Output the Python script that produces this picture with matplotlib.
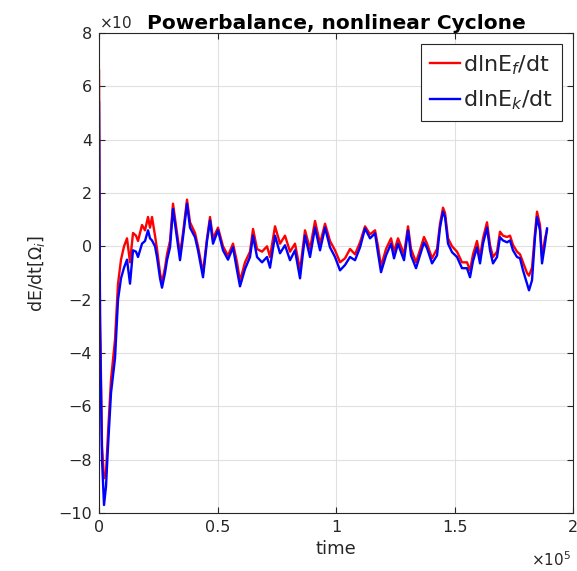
import numpy as np
import matplotlib.pyplot as plt
from matplotlib.ticker import FuncFormatter

# time axis (raw units) and growth rates (shown in units of 10^-3)
time = [0, 420, 1270, 2110, 2950, 3800, 5060, 6750, 8020, 9280,
        10550, 11810, 13080, 14350, 15610, 16460, 18140, 19410, 20680, 21520,
        22360, 23630, 24470, 25740, 26580, 27850, 28690, 29960, 31220, 32910,
        34180, 35440, 37130, 38400, 40510, 41770, 43880, 45570, 46840, 48100,
        50210, 52320, 54430, 56540, 58230, 59490, 61600, 63710, 64980, 66670,
        68780, 70890, 72150, 74260, 76370, 78480, 80590, 82700, 84810, 86920,
        89030, 91140, 93250, 95360, 97470, 99580, 101690, 103800, 105910, 108020,
        110130, 112240, 114350, 116460, 117720, 118990, 121100, 123210, 124470, 126160,
        127430, 128690, 130380, 131650, 133760, 135040, 137130, 138400, 140510, 142620,
        143880, 145150, 146000, 147260, 148950, 151050, 153160, 155270, 156540, 157810,
        159490, 160760, 162020, 163710, 164980, 166240, 167930, 169190, 170460, 172150,
        173420, 174680, 176370, 177640, 178900, 180590, 181430, 182700, 183960, 184810,
        186070, 186920, 188190, 189030]

dlnEf = [6.6, -2.5, -7.5, -8.7, -8.5, -7.0, -5.0, -3.5, -1.4, -0.5,
         0.0, 0.3, -0.6, 0.5, 0.4, 0.2, 0.8, 0.6, 1.1, 0.7,
         1.1, 0.4, -0.1, -1.0, -1.35, -0.8, -0.3, 0.2, 1.6, 0.5,
         -0.3, 0.5, 1.75, 0.9, 0.5, 0.0, -1.0, 0.3, 1.1, 0.3,
         0.7, 0.0, -0.35, 0.1, -0.6, -1.3, -0.6, -0.2, 0.65, -0.1,
         -0.2, 0.0, -0.4, 0.75, 0.1, 0.4, -0.2, 0.1, -0.9, 0.6,
         -0.1, 0.95, 0.1, 0.85, 0.2, -0.15, -0.6, -0.45, -0.1, -0.3,
         0.15, 0.75, 0.45, 0.6, 0.0, -0.75, -0.1, 0.3, -0.2, 0.3,
         0.0, -0.3, 0.75, -0.1, -0.6, -0.25, 0.35, 0.1, -0.45, -0.1,
         0.85, 1.45, 1.25, 0.3, 0.0, -0.2, -0.6, -0.6, -0.9, -0.3,
         0.2, -0.4, 0.3, 0.9, 0.05, -0.4, -0.2, 0.55, 0.4, 0.35,
         0.4, 0.05, -0.2, -0.3, -0.6, -1.0, -1.1, -0.8, 0.5, 1.3,
         0.8, -0.4, 0.3, 0.6]

dlnEk = [5.4, -3.0, -8.0, -9.7, -9.0, -7.5, -5.5, -4.2, -2.0, -1.2,
         -0.8, -0.5, -1.4, -0.15, -0.2, -0.4, 0.1, 0.2, 0.6, 0.3,
         0.22, 0.0, -0.4, -1.2, -1.55, -1.0, -0.52, -0.04, 1.4, 0.3,
         -0.52, 0.34, 1.6, 0.7, 0.34, -0.15, -1.16, 0.2, 0.97, 0.1,
         0.6, -0.15, -0.5, -0.04, -0.9, -1.5, -0.85, -0.4, 0.4, -0.4,
         -0.6, -0.4, -0.8, 0.4, -0.26, 0.04, -0.52, -0.15, -1.2, 0.4,
         -0.4, 0.7, -0.15, 0.7, -0.04, -0.4, -0.9, -0.7, -0.4, -0.52,
         -0.04, 0.67, 0.3, 0.49, -0.26, -0.97, -0.34, 0.1, -0.45, 0.1,
         -0.22, -0.52, 0.6, -0.34, -0.82, -0.45, 0.15, -0.07, -0.64, -0.34,
         0.7, 1.3, 1.1, 0.1, -0.22, -0.4, -0.82, -0.82, -1.16, -0.55,
         -0.04, -0.64, 0.1, 0.7, -0.15, -0.64, -0.4, 0.34, 0.22, 0.15,
         0.22, -0.15, -0.4, -0.45, -0.9, -1.4, -1.65, -1.27, 0.34, 1.1,
         0.6, -0.64, 0.1, 0.67]

gray = '#262626'
fig = plt.figure(figsize=(5.77, 5.71), dpi=100)
ax = fig.add_axes([0.1716, 0.1016, 0.8215, 0.8406])

ax.plot(time, dlnEf, color='r', lw=1.7, label='dlnE$_f$/dt')
ax.plot(time, dlnEk, color='b', lw=1.7, label='dlnE$_k$/dt')

ax.set_xlim(0, 2e5)
ax.set_ylim(-10, 8)
ax.set_xticks([0, 0.5e5, 1e5, 1.5e5, 2e5])
ax.set_yticks(np.arange(-10, 9, 2))
ax.xaxis.set_major_formatter(FuncFormatter(lambda v, p: '%g' % (v / 1e5)))

ax.grid(True, color='#e0e0e0', lw=0.8)
ax.set_axisbelow(True)
ax.tick_params(direction='in', top=True, right=True, colors=gray,
               labelsize=11.5, length=4, pad=5)
for s in ax.spines.values():
    s.set_color(gray)
    s.set_linewidth(0.8)

# exponent labels (MATLAB style)
ax.text(0.0, 1.005, r'$\times$10', transform=ax.transAxes, fontsize=11,
        color=gray, ha='left', va='bottom')
ax.text(0.995, -0.077, r'$\times$10$^5$', transform=ax.transAxes, fontsize=11,
        color=gray, ha='right', va='top')

ax.set_title('Powerbalance, nonlinear Cyclone', fontsize=14.5, fontweight='bold',
             color='k', pad=3)
ax.set_xlabel('time', fontsize=13, color=gray, labelpad=4)
ax.set_ylabel(r'dE/dt[$\Omega_i$]', fontsize=12.5, color=gray, labelpad=8)

leg = ax.legend(loc='upper right', fontsize=16, handlelength=1.35,
                handletextpad=0.15, borderpad=0.4, labelspacing=0.55,
                fancybox=False, framealpha=1, borderaxespad=0.5)
leg.get_frame().set_edgecolor(gray)
leg.get_frame().set_linewidth(0.8)
for t in leg.get_texts():
    t.set_color(gray)

fig.savefig('out.png', dpi=100)
